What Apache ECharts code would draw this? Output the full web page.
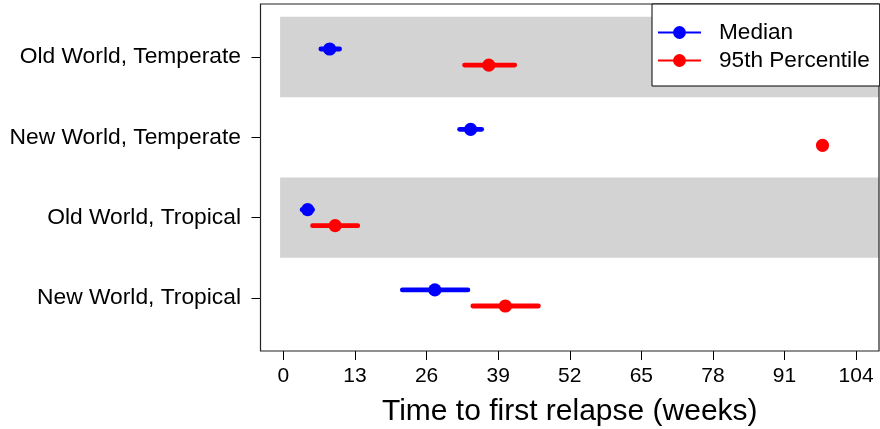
<!DOCTYPE html>
<html>
<head>
<meta charset="utf-8">
<script src="https://cdn.jsdelivr.net/npm/echarts@6/dist/echarts.min.js"></script>
<style>
  html, body { margin: 0; padding: 0; background: #fff; }
  #chart { width: 880px; height: 429px; }
</style>
</head>
<body>
<div id="chart"></div>
<script>
// ---- data (weeks) ----
const categories = ['Old World, Temperate', 'New World, Temperate', 'Old World, Tropical', 'New World, Tropical'];
const medianLow  = [6.8, 32.0, 3.4, 21.6];
const medianPt   = [8.4, 34.0, 4.4, 27.5];
const medianHigh = [10.2, 36.0, 5.3, 33.5];
const p95Low  = [32.9, 97.9, 5.3, 34.4];
const p95Pt   = [37.3, 97.9, 9.4, 40.3];
const p95High = [42.0, 97.9, 13.5, 46.3];
const xTicks = [0, 13, 26, 39, 52, 65, 78, 91, 104];
const shadedRows = ['Old World, Temperate', 'Old World, Tropical'];
const seriesNames = ['Median', '95th Percentile'];

const FONT = '"Liberation Sans", Arial, Helvetica, sans-serif';
const n = categories.length;
const yOf = i => n - i;            // top row -> highest value
const yTicks = categories.map((c, i) => yOf(i));
const X_MIN = -4.16, X_MAX = 108.16;

function rows(lo, pt, hi) {
  return categories.map((c, i) => [lo[i], pt[i], hi[i], yOf(i)]);
}
const bandData = shadedRows.map(name => {
  const y = yOf(categories.indexOf(name));
  return [-0.6, X_MAX, y - 0.5, y + 0.5];
});

function makeRender(color, offset) {
  return function (params, api) {
    const y = api.value(3) + offset;
    const a = api.coord([api.value(0), y]);
    const b = api.coord([api.value(2), y]);
    const c = api.coord([api.value(1), y]);
    return {
      type: 'group',
      children: [
        { type: 'line', shape: { x1: a[0], y1: a[1], x2: b[0], y2: b[1] },
          style: { stroke: color, lineWidth: 4.8, lineCap: 'round' } },
        { type: 'circle', shape: { cx: c[0], cy: c[1], r: 6.6 },
          style: { fill: color } }
      ]
    };
  };
}

const chart = echarts.init(document.getElementById('chart'), null, { renderer: 'canvas' });
chart.setOption({
  animation: false,
  backgroundColor: '#fff',
  textStyle: { fontFamily: FONT },
  grid: {
    left: 260.5, right: 1, top: 4, bottom: 78,
    containLabel: false, outerBoundsMode: 'none',
    show: true, borderColor: '#222', borderWidth: 1.2,
    backgroundColor: 'transparent', z: 5
  },
  legend: {
    data: seriesNames,
    orient: 'vertical',
    left: 652, top: 4,
    padding: [17, 10, 14, 5],
    itemGap: 5,
    itemWidth: 43, itemHeight: 16,
    backgroundColor: '#fff',
    borderColor: '#000', borderWidth: 1,
    textStyle: { fontSize: 22.6, color: '#000', fontFamily: FONT, padding: [0, 0, 0, 13] },
    z: 10
  },
  xAxis: {
    type: 'value', min: X_MIN, max: X_MAX,
    splitLine: { show: false },
    axisLine: { show: false, onZero: false },
    axisTick: { show: true, customValues: xTicks, length: 9, lineStyle: { color: '#000', width: 1 } },
    axisLabel: { customValues: xTicks, fontSize: 21, color: '#000', margin: 15, fontFamily: FONT },
    name: 'Time to first relapse (weeks)',
    nameLocation: 'middle', nameGap: 46,
    nameTextStyle: { fontSize: 30, color: '#000', fontFamily: FONT }
  },
  yAxis: {
    type: 'value', min: 0.34, max: 4.66,
    splitLine: { show: false },
    axisLine: { show: false, onZero: false },
    axisTick: { show: true, customValues: yTicks, length: 9, lineStyle: { color: '#000', width: 1 } },
    axisLabel: {
      customValues: yTicks, fontSize: 22.8, color: '#000', margin: 19.5, fontFamily: FONT,
      formatter: v => categories[n - Math.round(v)]
    }
  },
  series: [
    { name: seriesNames[0], type: 'line', data: [], symbol: 'circle', color: '#0000ff',
      lineStyle: { width: 3.5, color: '#0000ff' }, itemStyle: { color: '#0000ff' } },
    { name: seriesNames[1], type: 'line', data: [], symbol: 'circle', color: '#ff0000',
      lineStyle: { width: 3.5, color: '#ff0000' }, itemStyle: { color: '#ff0000' } },
    {
      name: 'bands', type: 'custom', z: 1, silent: true,
      data: bandData,
      encode: { x: [0, 1], y: [2, 3] },
      renderItem: function (params, api) {
        const p0 = api.coord([api.value(0), api.value(3)]);
        const p1 = api.coord([api.value(1), api.value(2)]);
        const rect = echarts.graphic.clipRectByRect(
          { x: p0[0], y: p0[1], width: p1[0] - p0[0], height: p1[1] - p0[1] },
          params.coordSys);
        return rect && { type: 'rect', shape: rect, style: { fill: '#d3d3d3' } };
      }
    },
    {
      name: 'Median CI', type: 'custom', z: 3, silent: true,
      data: rows(medianLow, medianPt, medianHigh),
      encode: { x: [0, 1, 2], y: 3 },
      renderItem: makeRender('#0000ff', 0.1)
    },
    {
      name: '95th CI', type: 'custom', z: 3, silent: true,
      data: rows(p95Low, p95Pt, p95High),
      encode: { x: [0, 1, 2], y: 3 },
      renderItem: makeRender('#ff0000', -0.1)
    }
  ]
});
</script>
</body>
</html>
